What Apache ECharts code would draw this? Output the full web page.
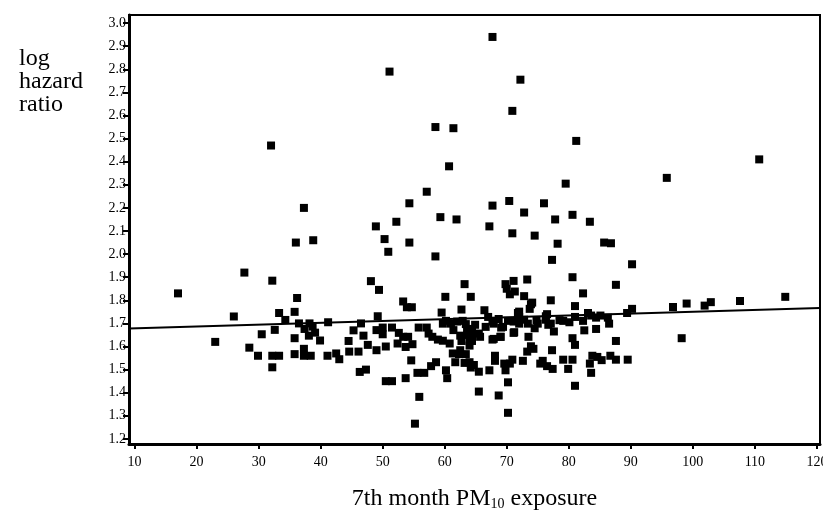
<!DOCTYPE html>
<html>
<head>
<meta charset="utf-8">
<script src="https://cdn.jsdelivr.net/npm/echarts@6/dist/echarts.min.js"></script>
<style>
html,body{margin:0;padding:0;background:#fff;}
#main{width:823px;height:521px;}
</style>
</head>
<body>
<div id="main"></div>
<script>
// x = 7th month PM10 exposure, y = log hazard ratio
var pmExposure = [
  32.0,37.3,67.7,51.1,72.2,70.9,58.5,61.4,81.2,60.7,79.5,57.1,54.3,67.7,70.4,76.0,72.8,52.2,59.3,61.9,
  77.8,80.6,83.4,48.9,67.2,70.9,110.7,95.8,
  50.3,50.9,54.3,58.5,74.5,78.2,77.3,
  36.0,38.8,27.7,32.2,17.0,36.2,26.0,33.3,35.8,34.3,36.5,38.2,41.2,37.4,38.7,39.1,38.1,39.9,32.6,30.5,
  23.0,35.8,28.5,29.9,32.2,33.3,35.8,37.3,37.3,38.4,41.1,42.5,43.0,32.2,45.3,46.5,46.9,44.5,47.6,44.6,
  46.1,46.3,47.3,
  48.1,49.4,63.2,60.1,64.2,53.3,53.9,54.7,59.5,62.7,66.4,69.8,71.1,73.3,70.0,71.3,72.8,74.1,77.1,80.6,
  82.3,81.0,83.1,84.4,82.5,80.1,80.6,81.0,77.3,77.6,83.8,83.4,83.6,80.6,79.1,79.9,81.0,75.8,76.5,77.4,
  75.4,72.6,70.9,70.5,69.8,69.6,70.2,70.2,68.7,65.5,68.1,68.1,67.2,65.5,64.7,64.0,63.4,62.5,61.7,60.8,
  60.4,60.2,58.6,57.8,56.7,55.6,55.9,55.2,53.7,54.6,50.5,51.5,49.0,50.5,52.4,53.7,54.8,53.3,54.1,52.6,
  51.5,50.0,50.0,49.0,49.2,55.8,57.1,58.0,58.9,59.7,61.0,61.4,62.5,63.6,62.9,64.9,64.4,64.0,65.7,67.0,
  67.9,69.0,67.7,69.4,70.2,71.1,72.0,71.8,72.8,73.7,73.5,73.9,74.3,73.3,75.0,76.3,76.5,76.7,79.1,81.0,
  82.3,83.6,84.4,84.6,
  85.7,86.8,90.2,87.6,85.1,86.3,86.5,89.4,90.2,87.6,85.3,86.7,87.6,89.5,96.8,99.0,101.9,102.9,107.6,114.9,
  98.2,
  70.5,73.9,61.3,62.3,63.2,64.2,60.2,62.0,63.4,64.4,63.7,62.7,64.4,64.0,65.5,66.6,67.7,68.7,69.1,67.9,
  69.0,71.1,72.0,71.2,73.4,74.8,76.3,74.5,77.1,78.5,59.7,57.4,72.0
];
var logHazard = [
  2.47,2.20,2.94,2.79,2.755,2.62,2.55,2.545,2.49,2.38,2.305,2.27,2.22,2.21,2.23,2.22,2.18,2.14,2.16,2.15,
  2.15,2.17,2.14,2.12,2.12,2.09,2.41,2.33,
  2.065,2.01,2.05,1.99,2.08,2.045,1.975,
  2.05,2.06,1.92,1.885,1.83,1.81,1.73,1.745,1.75,1.715,1.70,1.70,1.705,1.676,1.686,1.66,1.647,1.626,1.672,1.653,
  1.62,1.636,1.595,1.56,1.56,1.56,1.567,1.59,1.56,1.56,1.56,1.57,1.545,1.51,1.67,1.70,1.647,1.624,1.607,1.578,
  1.578,1.49,1.50,
  1.883,1.845,1.87,1.815,1.815,1.795,1.77,1.77,1.747,1.76,1.757,1.87,1.884,1.89,1.85,1.838,1.818,1.79,1.80,1.90,
  1.83,1.775,1.745,1.676,1.67,1.705,1.636,1.607,1.584,1.665,1.56,1.526,1.486,1.543,1.543,1.503,1.43,1.538,1.515,1.503,
  1.526,1.538,1.543,1.526,1.497,1.526,1.445,1.313,1.388,1.405,1.56,1.538,1.497,1.491,1.52,1.532,1.567,1.584,1.532,1.613,
  1.463,1.497,1.532,1.515,1.486,1.486,1.382,1.266,1.463,1.54,1.45,1.45,1.584,1.60,1.613,1.598,1.61,1.642,1.642,1.659,
  1.682,1.682,1.653,1.671,1.731,1.682,1.682,1.642,1.630,1.699,1.699,1.671,1.647,1.676,1.711,1.694,1.647,1.624,1.642,1.728,
  1.699,1.642,1.630,1.685,1.711,1.659,1.699,1.745,1.716,1.763,1.642,1.601,1.590,1.578,1.699,1.716,1.740,1.694,1.711,1.728,
  1.711,1.734,1.725,1.555,
  2.05,2.047,1.956,1.867,1.734,1.725,1.699,1.745,1.763,1.624,1.541,1.56,1.543,1.543,1.771,1.786,1.777,1.792,1.797,1.815,
  1.636,
  1.826,1.783,1.57,1.567,1.529,1.509,1.711,1.708,1.697,1.676,1.650,1.624,1.624,1.604,1.656,1.685,1.708,1.719,1.682,1.633,
  1.642,1.708,1.728,1.662,1.699,1.714,1.731,1.679,1.699,1.714,1.625,1.656,1.751
];
// fitted line end points
var fitX = [9.1, 120.5];
var fitY = [1.678, 1.767];
var xTicks = [10,20,30,40,50,60,70,80,90,100,110,120];
var yTicks = [1.2,1.3,1.4,1.5,1.6,1.7,1.8,1.9,2.0,2.1,2.2,2.3,2.4,2.5,2.6,2.7,2.8,2.9,3.0];

var points = [];
for (var i = 0; i < pmExposure.length; i++) {
    points.push([pmExposure[i], logHazard[i]]);
}
var fitLine = [];
for (var j = 0; j < fitX.length; j++) {
    fitLine.push([fitX[j], fitY[j]]);
}

var serif = 'Liberation Serif';
var myChart = echarts.init(document.getElementById('main'));
var option = {
    animation: false,
    backgroundColor: '#fff',
    title: {
        text: 'log\nhazard\nratio',
        left: 14,
        top: 42,
        textStyle: {fontFamily: serif, fontSize: 24, fontWeight: 'normal', lineHeight: 23, color: '#000'}
    },
    grid: {
        left: 129,
        right: 3,
        top: 15,
        bottom: 77,
        outerBoundsMode: 'none',
        containLabel: false,
        show: true,
        borderColor: '#000',
        borderWidth: 2
    },
    xAxis: {
        type: 'value',
        min: 9.1,
        max: 120.5,
        splitLine: {show: false},
        axisLine: {onZero: false, lineStyle: {color: '#000', width: 3}},
        axisTick: {customValues: xTicks, length: 5, lineStyle: {color: '#000', width: 2}},
        axisLabel: {customValues: xTicks, color: '#000', fontFamily: serif, fontSize: 14, margin: 11},
        name: '{a|7th month PM}{b|10}{a| exposure}',
        nameLocation: 'middle',
        nameGap: 43,
        nameTextStyle: {
            rich: {
                a: {fontFamily: serif, fontSize: 24, color: '#000'},
                b: {fontFamily: serif, fontSize: 14, color: '#000', verticalAlign: 'bottom'}
            }
        }
    },
    yAxis: {
        type: 'value',
        min: 1.178,
        max: 3.035,
        splitLine: {show: false},
        axisLine: {onZero: false, lineStyle: {color: '#000', width: 3}},
        axisTick: {customValues: yTicks, length: 6, lineStyle: {color: '#000', width: 2}},
        axisLabel: {
            customValues: yTicks, color: '#000', fontFamily: serif, fontSize: 14, margin: 3,
            formatter: function (v) { return v.toFixed(1); }
        }
    },
    series: [
        {
            type: 'scatter',
            data: points,
            symbol: 'rect',
            symbolSize: 8,
            itemStyle: {color: '#000', opacity: 1},
            z: 3
        },
        {
            type: 'line',
            data: fitLine,
            symbol: 'none',
            lineStyle: {color: '#000', width: 2},
            z: 2
        }
    ]
};
myChart.setOption(option);
</script>
</body>
</html>
